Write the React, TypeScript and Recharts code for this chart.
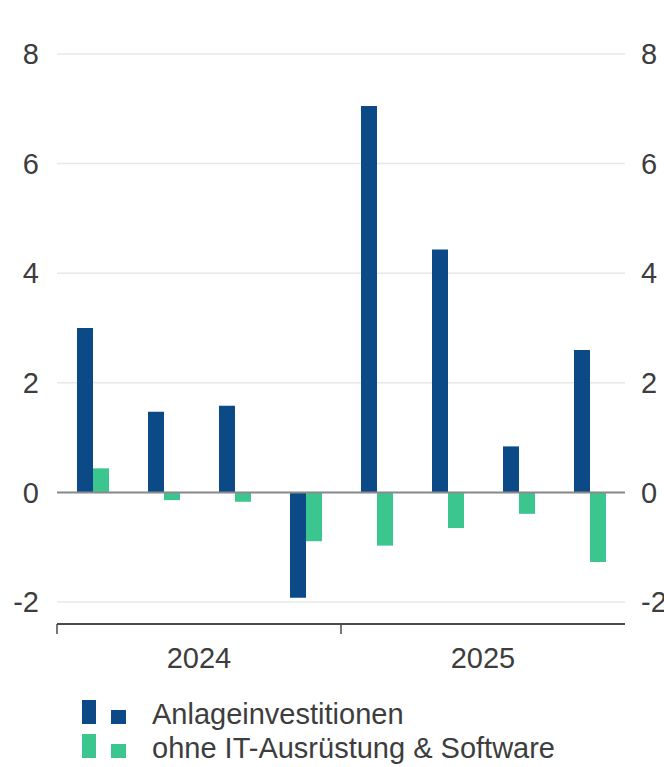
import { Bar, CartesianGrid, ComposedChart, Line, ReferenceLine, XAxis, YAxis } from 'recharts'

const DUNKELBLAU = '#0b4a87'
const GRUEN = '#3cc68f'
const TEXT = '#3d3d3d'
const FONT = '"Liberation Sans", Arial, sans-serif'

const QUARTALE = ['Q1 2024', 'Q2 2024', 'Q3 2024', 'Q4 2024', 'Q1 2025', 'Q2 2025', 'Q3 2025', 'Q4 2025']
const JAHRE = ['2024', '2025']
const ANLAGEINVESTITIONEN = [3.0, 1.47, 1.58, -1.92, 7.05, 4.43, 0.84, 2.6]
const OHNE_IT = [0.44, -0.14, -0.17, -0.89, -0.97, -0.65, -0.39, -1.27]
const Y_TICKS = [-2, 0, 2, 4, 6, 8]
const Y_DOMAIN = [-2.4, 8.4]

const LEGENDE = [
  { name: 'Anlageinvestitionen', color: DUNKELBLAU },
  { name: 'ohne IT-Ausrüstung & Software', color: GRUEN },
]

const W = 664
const CHART_H = 681
const Y_LEFT_W = 57
const Y_RIGHT_W = 39
const PLOT_W = W - Y_LEFT_W - Y_RIGHT_W
const BAND = PLOT_W / QUARTALE.length

const rows = QUARTALE.map((q, i) => ({
  q,
  anlage: ANLAGEINVESTITIONEN[i],
  ohneIt: OHNE_IT[i],
}))

// Jahresachse: Strich an jeder Jahresgrenze (außer rechts), Jahreszahl in der Mitte von 4 Quartalen
function JahrTick(props: any) {
  const { x, y, index } = props
  if (index % 4 === 0) {
    return <line x1={x - BAND / 2} x2={x - BAND / 2} y1={y} y2={y + 10} stroke="#4a4a4a" strokeWidth={1.5} />
  }
  if (index % 4 === 1) {
    return (
      <text x={x + BAND / 2} y={y + 34} dy="0.35em" textAnchor="middle" fill={TEXT} fontSize={29} fontFamily={FONT}>
        {JAHRE[Math.floor(index / 4)]}
      </text>
    )
  }
  return <g />
}

export default function App() {
  const tickStyle = { fill: TEXT, fontSize: 29, fontFamily: FONT }
  return (
    <div style={{ position: 'absolute', left: 0, top: 0, width: W, height: 767, background: '#fff', fontFamily: FONT }}>
      <ComposedChart
        width={W}
        height={CHART_H}
        data={rows}
        margin={{ top: 32, right: 0, bottom: 0, left: 0 }}
        barGap={0}
        barSize={16}
      >
        {/* Gitter nur an den Achsenwerten, kein Rahmen oben */}
        <CartesianGrid yAxisId="l" vertical={false} syncWithTicks stroke="#e8e8e8" strokeWidth={1.5} />
        <XAxis
          dataKey="q"
          height={57}
          axisLine={{ stroke: '#4a4a4a', strokeWidth: 2 }}
          tickLine={false}
          tickSize={0}
          tickMargin={0}
          interval={0}
          tick={<JahrTick />}
        />
        <YAxis
          yAxisId="l"
          width={Y_LEFT_W}
          domain={Y_DOMAIN}
          ticks={Y_TICKS}
          axisLine={false}
          tickLine={false}
          tickMargin={12}
          tick={tickStyle}
        />
        <YAxis
          yAxisId="r"
          orientation="right"
          width={Y_RIGHT_W}
          domain={Y_DOMAIN}
          ticks={Y_TICKS}
          axisLine={false}
          tickLine={false}
          tickMargin={10}
          tick={{ ...tickStyle, textAnchor: 'start' }}
        />
        <ReferenceLine yAxisId="l" y={0} stroke="#8a8a8a" strokeWidth={2} />
        <Bar yAxisId="l" dataKey="anlage" fill={DUNKELBLAU} isAnimationActive={false} />
        <Bar yAxisId="l" dataKey="ohneIt" fill={GRUEN} isAnimationActive={false} />
        {/* unsichtbare Serie, damit die rechte Achse ihre Beschriftung zeichnet */}
        <Line
          yAxisId="r"
          dataKey="anlage"
          stroke="none"
          dot={false}
          activeDot={false}
          legendType="none"
          isAnimationActive={false}
        />
      </ComposedChart>
      <div style={{ position: 'absolute', left: 82, top: 697, color: TEXT, fontSize: 29, lineHeight: '34px' }}>
        {LEGENDE.map((l) => (
          <div key={l.name} style={{ display: 'flex', alignItems: 'flex-end', height: 34, whiteSpace: 'nowrap' }}>
            <span style={{ display: 'inline-block', width: 14, height: 24, background: l.color, marginBottom: 7 }} />
            <span style={{ display: 'inline-block', width: 15, height: 14, background: l.color, marginLeft: 15, marginBottom: 7 }} />
            <span style={{ marginLeft: 26 }}>{l.name}</span>
          </div>
        ))}
      </div>
    </div>
  )
}
